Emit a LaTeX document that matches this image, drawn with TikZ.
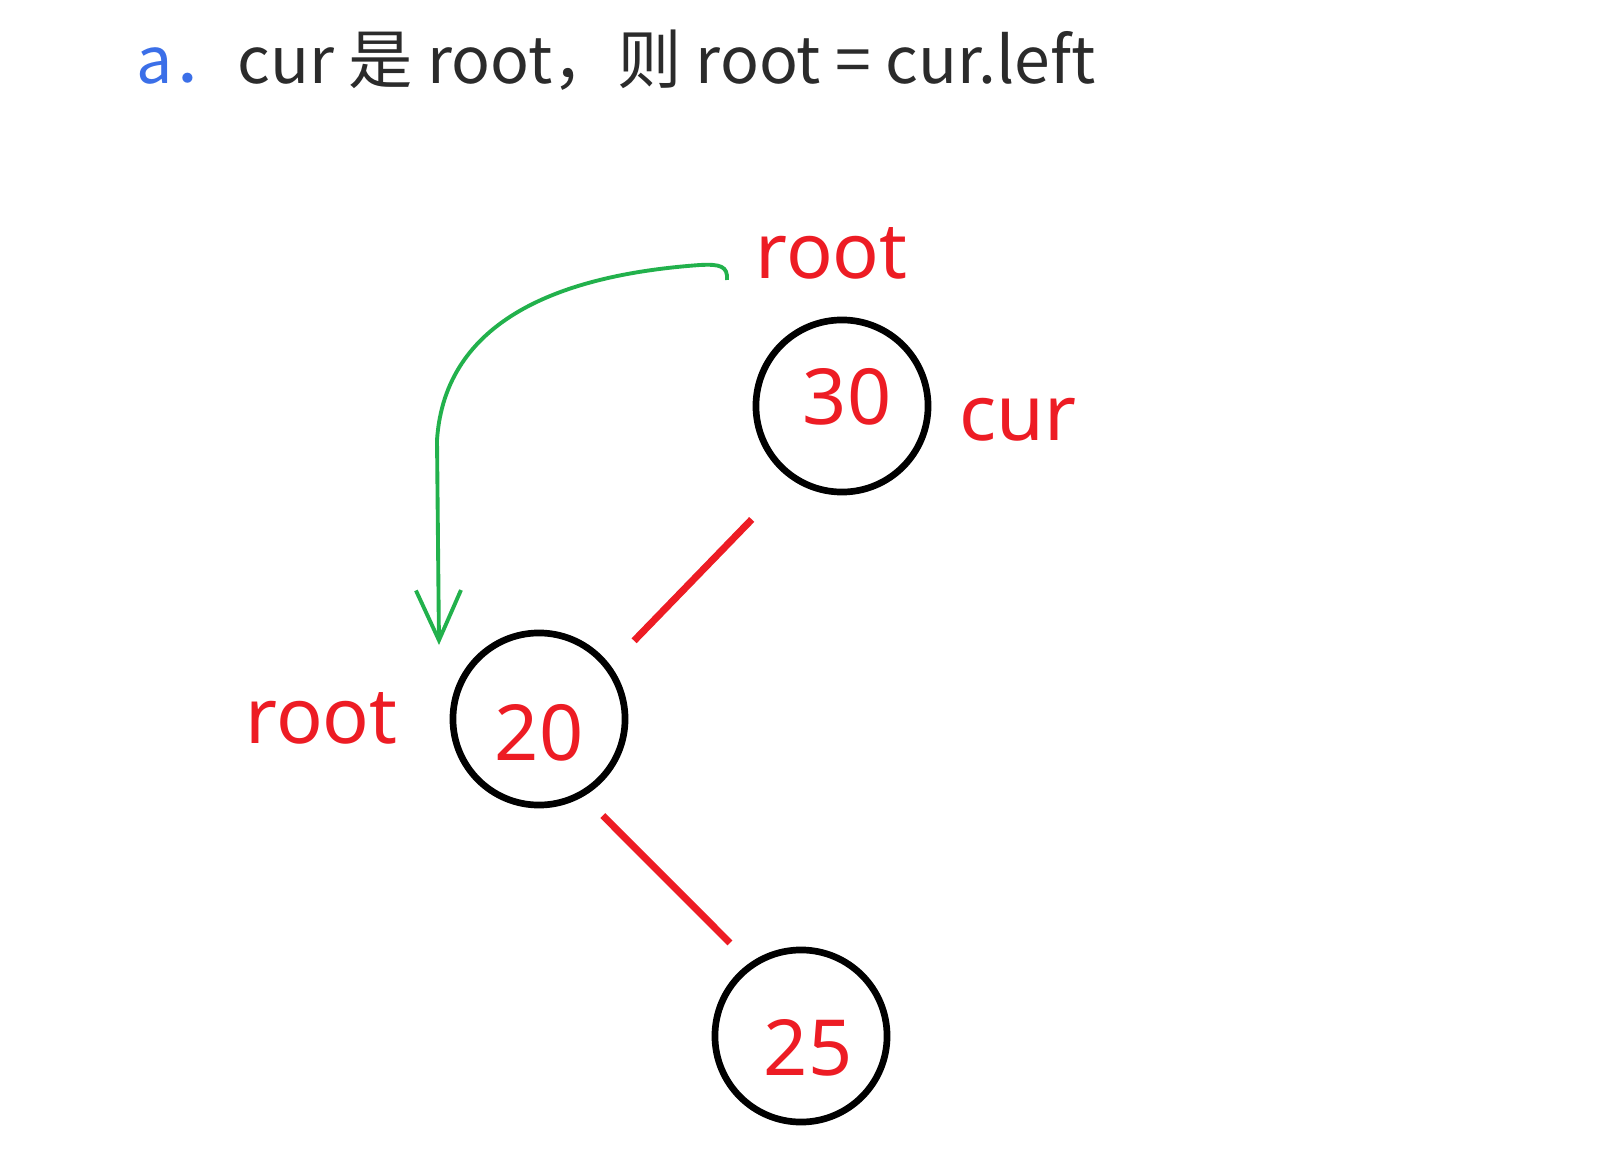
\documentclass[tikz,border=0pt]{standalone}
\usepackage{fontspec}
\setmainfont{Noto Sans}
\newfontfamily\cjk{Noto Sans CJK SC}
\usetikzlibrary{arrows.meta}
\definecolor{paintred}{HTML}{ED1C24}
\definecolor{paintgreen}{HTML}{22B14C}
\definecolor{titleblue}{HTML}{3B6FE8}
\definecolor{titlegray}{HTML}{2B2B2B}

\begin{document}
\begin{tikzpicture}[x=0.01cm, y=-0.01cm,
  treenode/.style={circle, draw=black, line width=1.9pt, minimum size=1.72cm, inner sep=0pt},
  val/.style={anchor=base, text=paintred, font=\fontsize{22}{26}\selectfont},
  tag/.style={anchor=base west, text=paintred, font=\fontsize{22}{26}\selectfont},
  edge/.style={paintred, line width=2pt},
  move/.style={paintgreen, line width=1.1pt, -{Straight Barb[length=5mm, width=4.5mm]}}]
\useasboundingbox[fill=white] (0,0) rectangle (1600,1167);

% title
\node[anchor=base west, inner sep=0pt, font=\cjk\fontsize{18.3}{22}\selectfont, text=titlegray] (title) at (136,84)
  {\textcolor{titleblue}{a．}cur 是 root，则 root = cur.left};

% tree
\node[treenode] (n30) at (842,406) {};
\node[treenode] (n20) at (539,719) {};
\node[treenode] (n25) at (801,1036) {};
\node[val] (v30) at (847,425) {30};
\node[val] (v20) at (539,760) {20};
\node[val] (v25) at (808,1075) {25};

% labels
\node[tag, inner sep=0pt] (rootNew) at (755,279) {root};
\node[tag, inner sep=0pt] (curTag) at (959,441) {cur};
\node[tag, inner sep=0pt] (rootOld) at (245,743) {root};

% links
\draw[edge, shorten <=0.56cm, shorten >=0.34cm] (n30.235) -- (n20.37);
\draw[edge, shorten <=0.27cm, shorten >=0.28cm] (n20.-60) -- (n25.125);

% root moves to cur.left
\coordinate (gStart) at (727,280);
\coordinate (gTip) at (439,645);
\draw[move] (gStart) .. controls (728,266) and (720,264) .. (700,265)
  .. controls (560,275) and (445,320) .. (437,440) -- (gTip);
\end{tikzpicture}
\end{document}
